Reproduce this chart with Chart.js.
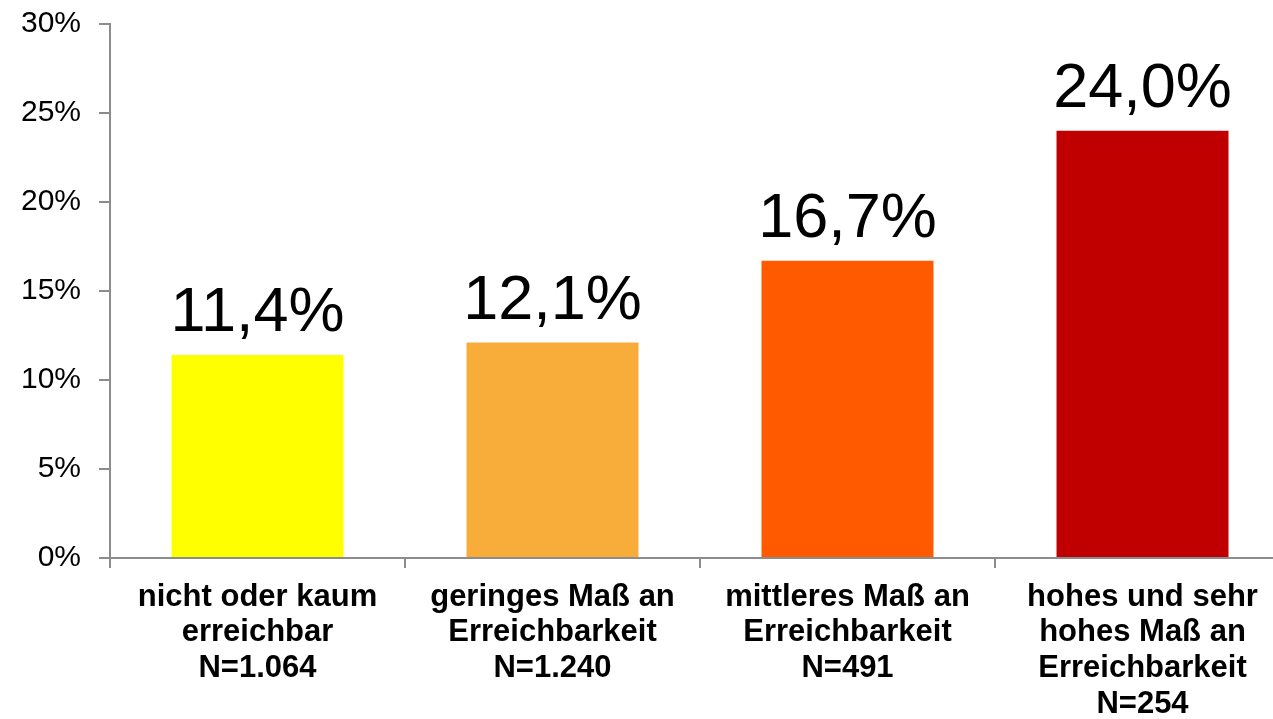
<!DOCTYPE html>
<html>
<head>
<meta charset="utf-8">
<script src="https://cdn.jsdelivr.net/npm/chart.js@4"></script>
<style>
  html, body { margin: 0; padding: 0; background: #fff; overflow: hidden; }
  #wrap { width: 1290px; height: 719px; }
</style>
</head>
<body>
<div id="wrap"><canvas id="chart"></canvas></div>
<script>
const categories = [
    ["nicht oder kaum", "erreichbar", "N=1.064"],
    ["geringes Maß an", "Erreichbarkeit", "N=1.240"],
    ["mittleres Maß an", "Erreichbarkeit", "N=491"],
    ["hohes und sehr", "hohes Maß an", "Erreichbarkeit", "N=254"]
]
const values = [11.4, 12.1, 16.7, 24.0]
const barColors = ["#ffff00", "#f8ad3a", "#ff5a00", "#c00000"]
const yTicks = [0, 5, 10, 15, 20, 25, 30]

const axisColor = "#8c8c8c"
const fontFamily = "'Liberation Sans', Arial, sans-serif"

// value labels above the bars, german decimal comma
const valueLabels = {
    id: 'valueLabels',
    afterDatasetsDraw(chart) {
        const ctx = chart.ctx
        const meta = chart.getDatasetMeta(0)
        ctx.save()
        ctx.font = "63px " + fontFamily
        ctx.fillStyle = "#000"
        ctx.textAlign = "center"
        ctx.textBaseline = "alphabetic"
        meta.data.forEach((bar, i) => {
            const txt = values[i].toFixed(1).replace('.', ',') + '%'
            ctx.fillText(txt, bar.x, bar.y - 24)
        })
        ctx.restore()
    }
}

const chart = new Chart(document.getElementById("chart"), {
    type: 'bar',
    data: {
        labels: categories,
        datasets: [{
            data: values,
            backgroundColor: barColors,
            barPercentage: 0.583,
            categoryPercentage: 1.0
        }]
    },
    options: {
        responsive: true,
        maintainAspectRatio: false,
        animation: false,
        layout: { padding: { top: 24, right: 0, left: 0, bottom: 0 } },
        plugins: {
            legend: { display: false },
            tooltip: { enabled: false }
        },
        scales: {
            y: {
                min: 0,
                max: 30,
                afterBuildTicks(scale) {
                    scale.ticks = yTicks.map(v => ({ value: v }))
                },
                afterFit(scale) {
                    scale.width = 110
                    scale.paddingTop = 0
                    scale.paddingBottom = 0
                },
                border: { color: axisColor, width: 2 },
                grid: {
                    drawOnChartArea: false,
                    drawTicks: true,
                    tickLength: 11,
                    tickColor: axisColor,
                    lineWidth: 2
                },
                ticks: {
                    padding: 18,
                    color: "#000",
                    font: { family: fontFamily, size: 30 },
                    callback: v => v + '%'
                }
            },
            x: {
                afterFit(scale) { scale.height = 161 },
                border: { color: axisColor, width: 2 },
                grid: {
                    drawOnChartArea: false,
                    drawTicks: true,
                    tickLength: 10,
                    tickColor: axisColor,
                    lineWidth: 2
                },
                ticks: {
                    padding: 11,
                    color: "#000",
                    maxRotation: 0,
                    autoSkip: false,
                    font: { family: fontFamily, size: 31, weight: 'bold', lineHeight: 1.16 }
                }
            }
        }
    },
    plugins: [valueLabels]
})
</script>
</body>
</html>
